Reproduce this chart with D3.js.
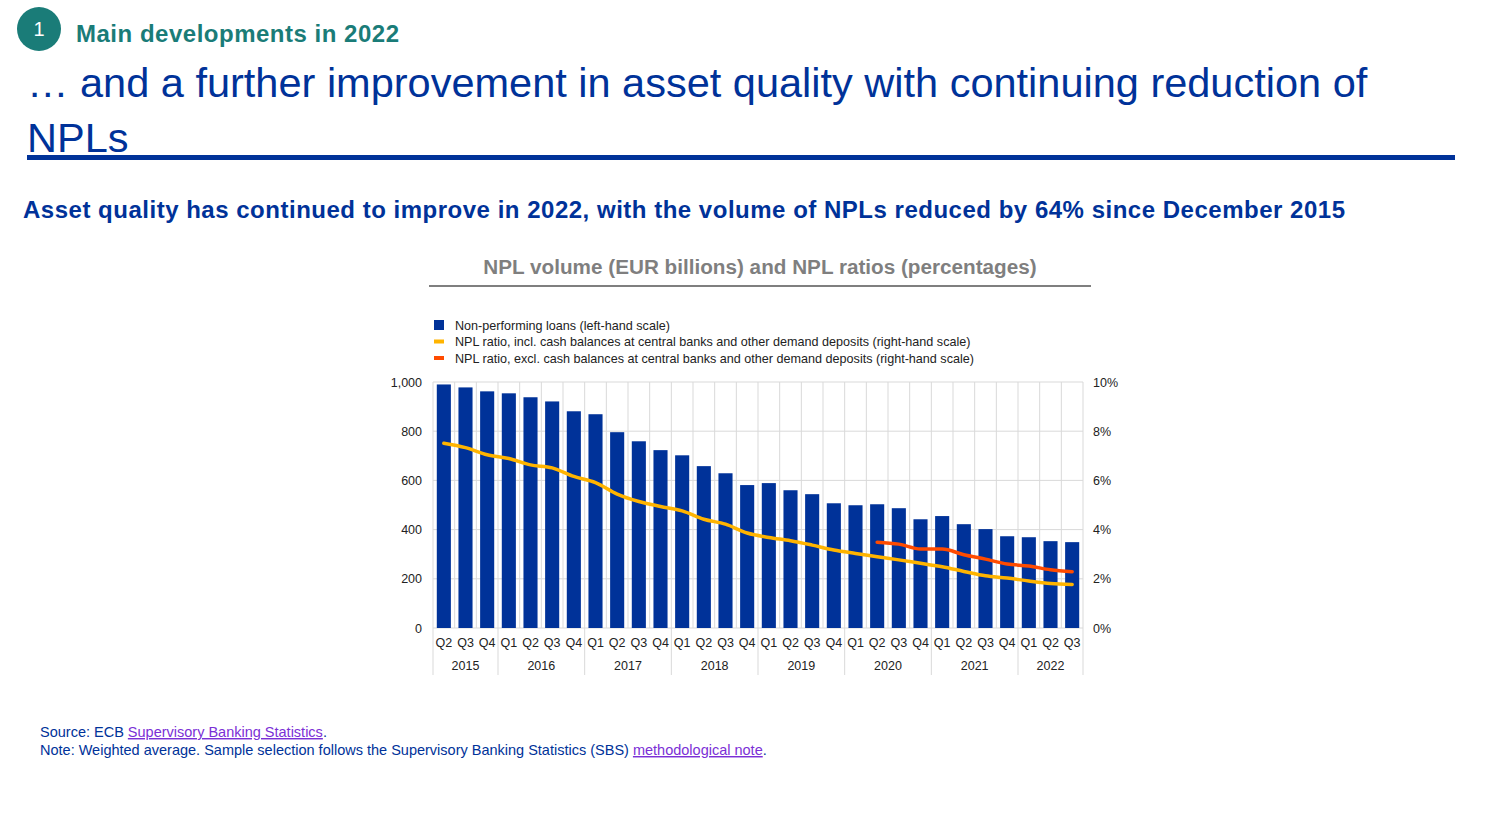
<!DOCTYPE html>
<html>
<head>
<meta charset="utf-8">
<script src="https://cdn.jsdelivr.net/npm/d3@7"></script>
<style>
  body { margin: 0; background: #fff; }
  svg { display: block; font-family: "Liberation Sans", Arial, sans-serif; }
</style>
</head>
<body>
<div id="chart"></div>
<script>
// quarters and years
var quarters = ["Q2","Q3","Q4","Q1","Q2","Q3","Q4","Q1","Q2","Q3","Q4","Q1","Q2","Q3","Q4",
                "Q1","Q2","Q3","Q4","Q1","Q2","Q3","Q4","Q1","Q2","Q3","Q4","Q1","Q2","Q3"];
var years = ["2015","2015","2015","2016","2016","2016","2016","2017","2017","2017","2017","2018","2018","2018","2018",
             "2019","2019","2019","2019","2020","2020","2020","2020","2021","2021","2021","2021","2022","2022","2022"];
// NPL volume, EUR billions
var nplVolume = [990,978,962,954,938,921,881,869,796,759,723,702,658,629,581,
                 589,560,544,507,499,503,487,442,455,422,402,373,369,353,349];
// NPL ratio incl. cash balances (%)
var ratioIncl = [7.51,7.33,7.04,6.89,6.63,6.51,6.16,5.91,5.44,5.14,4.94,4.76,4.42,4.22,3.86,
                 3.68,3.55,3.37,3.17,3.03,2.90,2.77,2.63,2.49,2.30,2.12,2.03,1.91,1.81,1.77];
// NPL ratio excl. cash balances (%), from 2020 Q2
var ratioExcl = [null,null,null,null,null,null,null,null,null,null,null,null,null,null,null,
                 null,null,null,null,null,3.49,3.41,3.21,3.21,2.98,2.80,2.60,2.52,2.37,2.29];
var leftTicks = [0,200,400,600,800,1000];
var rightTicks = [0,2,4,6,8,10];
var legendLabels = [
  "Non-performing loans (left-hand scale)",
  "NPL ratio, incl. cash balances at central banks and other demand deposits (right-hand scale)",
  "NPL ratio, excl. cash balances at central banks and other demand deposits (right-hand scale)"
];
var legendColors = ["#003299","#ffb400","#ff4b00"];

const W = 1486, H = 829;
const blue = "#003299", teal = "#1a7c78";

let svg = d3.select("#chart").append("svg").attr("width", W).attr("height", H);

// ---- header
svg.append("circle").attr("cx", 39).attr("cy", 29).attr("r", 22).attr("fill", teal);
svg.append("text").attr("x", 39).attr("y", 36).attr("text-anchor", "middle")
  .attr("font-size", 20).attr("fill", "#fff").text("1");
svg.append("text").attr("x", 76).attr("y", 42).attr("font-size", 24).attr("font-weight", "bold")
  .attr("fill", teal).attr("textLength", 323).text("Main developments in 2022");
svg.append("text").attr("x", 27).attr("y", 97).attr("font-size", 41.5).attr("fill", blue)
  .text("\u2026 and a further improvement in asset quality with continuing reduction of");
svg.append("text").attr("x", 27).attr("y", 152).attr("font-size", 41.5).attr("fill", blue).text("NPLs");
svg.append("rect").attr("x", 27).attr("y", 155).attr("width", 1428).attr("height", 5).attr("fill", blue);
svg.append("text").attr("x", 23).attr("y", 218).attr("font-size", 24).attr("font-weight", "bold")
  .attr("fill", blue).attr("textLength", 1322)
  .text("Asset quality has continued to improve in 2022, with the volume of NPLs reduced by 64% since December 2015");

// ---- chart title
svg.append("text").attr("x", 760).attr("y", 274).attr("text-anchor", "middle")
  .attr("font-size", 20.7).attr("font-weight", "bold").attr("fill", "#7f7f7f")
  .text("NPL volume (EUR billions) and NPL ratios (percentages)");
svg.append("rect").attr("x", 429).attr("y", 285).attr("width", 662).attr("height", 2).attr("fill", "#7f7f7f");

// ---- legend
let leg = svg.append("g").selectAll("g").data(legendLabels).enter().append("g")
  .attr("transform", (d, i) => "translate(434," + (325 + i * 16.5) + ")");
leg.append("rect")
  .attr("y", (d, i) => i == 0 ? -5 : -2)
  .attr("width", 10).attr("height", (d, i) => i == 0 ? 10 : 4)
  .attr("fill", (d, i) => legendColors[i]);
leg.append("text").attr("x", 21).attr("y", 4.5).attr("font-size", 12.6).attr("fill", "#222").text(d => d);

// ---- plot
const x0 = 433, x1 = 1083, y0 = 628, y1 = 382;
let idx = d3.range(nplVolume.length);
let x = d3.scaleBand().domain(idx).range([x0, x1]).paddingInner(0.35).paddingOuter(0.175);
let step = x.step();
let yL = d3.scaleLinear().domain([0, 1000]).range([y0, y1]);
let yR = d3.scaleLinear().domain([0, 10]).range([y0, y1]);

// gridlines
let grid = svg.append("g");
grid.selectAll("line.h").data(leftTicks).enter().append("line")
  .attr("x1", x0).attr("x2", x1).attr("y1", d => yL(d)).attr("y2", d => yL(d))
  .attr("stroke", "#d9d9d9").attr("stroke-width", 1);
grid.selectAll("line.v").data(d3.range(nplVolume.length + 1)).enter().append("line")
  .attr("x1", d => x0 + d * step).attr("x2", d => x0 + d * step)
  .attr("y1", y1).attr("y2", y0)
  .attr("stroke", "#d9d9d9").attr("stroke-width", 1);

// bars
svg.append("g").selectAll("rect").data(nplVolume).enter().append("rect")
  .attr("x", (d, i) => x(i)).attr("width", x.bandwidth())
  .attr("y", d => yL(d)).attr("height", d => y0 - yL(d))
  .attr("fill", blue);

// lines
let line = d3.line().defined(d => d != null)
  .x((d, i) => x(i) + x.bandwidth() / 2).y(d => yR(d))
  .curve(d3.curveMonotoneX);
svg.append("path").datum(ratioIncl).attr("d", line).attr("fill", "none")
  .attr("stroke", "#ffb400").attr("stroke-width", 3.5).attr("stroke-linecap", "round");
svg.append("path").datum(ratioExcl).attr("d", line).attr("fill", "none")
  .attr("stroke", "#ff4b00").attr("stroke-width", 3.5).attr("stroke-linecap", "round");

// left axis
let axL = svg.append("g").attr("transform", "translate(425,0)")
  .call(d3.axisLeft(yL).tickValues(leftTicks).tickSize(0).tickFormat(d3.format(",")));
axL.select(".domain").remove();
axL.selectAll("text").attr("font-size", 12.5).attr("fill", "#222").attr("font-family", "Liberation Sans, Arial").attr("dy", "0.32em");

// right axis
let axR = svg.append("g").attr("transform", "translate(1090,0)")
  .call(d3.axisRight(yR).tickValues(rightTicks).tickSize(0).tickFormat(d => d + "%"));
axR.select(".domain").remove();
axR.selectAll("text").attr("font-size", 12.5).attr("fill", "#222").attr("font-family", "Liberation Sans, Arial").attr("dy", "0.32em");

// quarter labels
svg.append("g").selectAll("text").data(quarters).enter().append("text")
  .attr("x", (d, i) => x(i) + x.bandwidth() / 2).attr("y", 647)
  .attr("text-anchor", "middle").attr("font-size", 12.5).attr("fill", "#222").text(d => d);

// year groups
let groups = d3.groups(idx, i => years[i]);
let yearG = svg.append("g");
groups.forEach(function (g) {
  let first = g[1][0], last = g[1][g[1].length - 1];
  let a = x0 + first * step, b = x0 + (last + 1) * step;
  yearG.append("text").attr("x", (a + b) / 2).attr("y", 670).attr("text-anchor", "middle")
    .attr("font-size", 12.5).attr("fill", "#222").text(g[0]);
});
let seps = [0].concat(groups.map(g => g[1][g[1].length - 1] + 1));
yearG.selectAll("line").data(seps).enter().append("line")
  .attr("x1", d => x0 + d * step).attr("x2", d => x0 + d * step)
  .attr("y1", y0).attr("y2", 675).attr("stroke", "#d9d9d9");

// ---- footnotes
let f1 = svg.append("text").attr("x", 40).attr("y", 737).attr("font-size", 14.5).attr("fill", blue);
f1.append("tspan").text("Source: ECB ");
f1.append("tspan").attr("fill", "#7b2fd6").attr("text-decoration", "underline").text("Supervisory Banking Statistics");
f1.append("tspan").text(".");
let f2 = svg.append("text").attr("x", 40).attr("y", 755).attr("font-size", 14.5).attr("fill", blue);
f2.append("tspan").text("Note: Weighted average. Sample selection follows the Supervisory Banking Statistics (SBS) ");
f2.append("tspan").attr("fill", "#7b2fd6").attr("text-decoration", "underline").text("methodological note");
f2.append("tspan").text(".");
</script>
</body>
</html>
